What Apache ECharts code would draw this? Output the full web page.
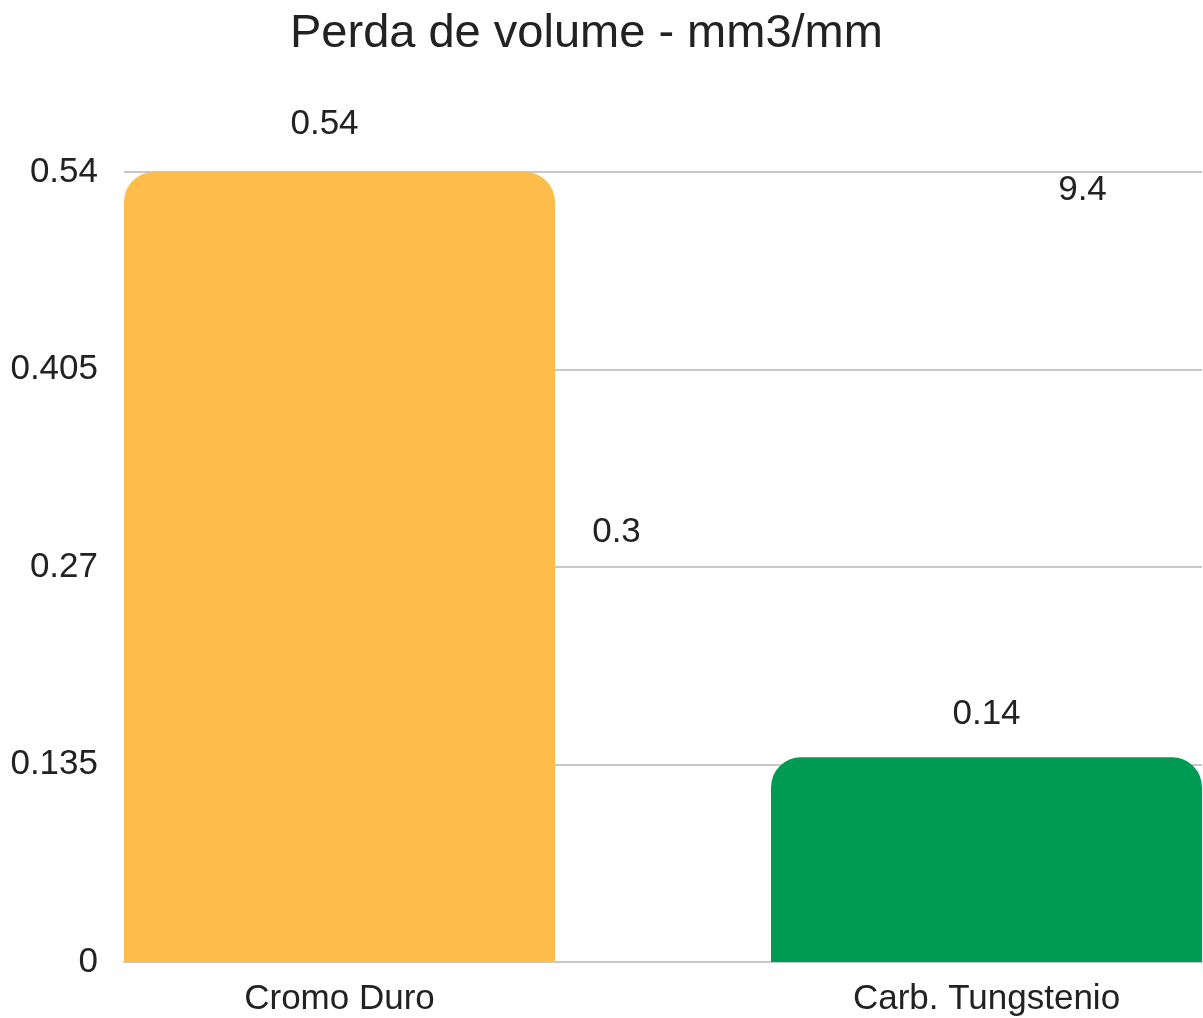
<!DOCTYPE html>
<html>
<head>
<meta charset="utf-8">
<script src="https://cdn.jsdelivr.net/npm/echarts@6/dist/echarts.min.js"></script>
<style>
html,body{margin:0;padding:0;background:#fff;}
#chart{width:1203px;height:1018px;}
</style>
</head>
<body>
<div id="chart"></div>
<script>
var titleText = 'Perda de volume - mm3/mm';
var categories = ['Cromo Duro', 'Carb. Tungstenio'];
var values = [0.54, 0.14];
var barColors = ['#FEBC4A', '#009B53'];
var strayValues = [0.3, 9.4];
var yMin = 0, yMax = 0.54, yInterval = 0.135;

var FONT = '"Liberation Sans", Arial, sans-serif';
var TXT = '#222222';
var GRIDC = '#C8C8C8';
var FS = 35;

var mainLabelStyle = [
  {distance: 30, offset: [-15, 0]},
  {distance: 25, offset: [0, 0]}
];
var strayLabelStyle = [
  {offset: [223, -13]},
  {offset: [150, -4]}
];

var chart = echarts.init(document.getElementById('chart'), null, {renderer: 'canvas'});
var option = {
  animation: false,
  backgroundColor: '#ffffff',
  title: {
    text: titleText,
    left: 285,
    top: 6,
    textStyle: {fontFamily: FONT, fontSize: 47, fontWeight: 'normal', color: TXT}
  },
  grid: [
    {left: 339.5, right: 216.5, top: 172, bottom: 56, containLabel: false},
    {left: 124, right: 1, top: 172, bottom: 56, containLabel: false}
  ],
  xAxis: [
    {
      type: 'category', gridIndex: 0, data: categories, boundaryGap: false,
      axisLine: {show: false}, axisTick: {show: false}, splitLine: {show: false},
      axisLabel: {margin: 20, fontFamily: FONT, fontSize: FS, color: TXT}
    },
    {
      type: 'category', gridIndex: 1, data: categories,
      axisLine: {show: true, lineStyle: {color: GRIDC, width: 2}},
      axisTick: {show: false}, axisLabel: {show: false}, splitLine: {show: false}
    }
  ],
  yAxis: [
    {
      type: 'value', gridIndex: 0, min: yMin, max: yMax, interval: yInterval, show: false,
      splitLine: {show: false}
    },
    {
      type: 'value', gridIndex: 1, min: yMin, max: yMax, interval: yInterval,
      axisLine: {show: false}, axisTick: {show: false},
      axisLabel: {margin: 26, fontFamily: FONT, fontSize: FS, color: TXT},
      splitLine: {show: true, lineStyle: {color: GRIDC, width: 2}}
    }
  ],
  series: [
    {
      type: 'bar', xAxisIndex: 0, yAxisIndex: 0, barWidth: 431, z: 3, clip: false,
      data: values.map(function (v, i) {
        return {
          value: v,
          itemStyle: {color: barColors[i], borderRadius: [30, 30, 0, 0]},
          label: {
            show: true, position: 'top',
            distance: mainLabelStyle[i].distance, offset: mainLabelStyle[i].offset,
            fontFamily: FONT, fontSize: FS, color: TXT
          }
        };
      })
    },
    {
      type: 'bar', xAxisIndex: 1, yAxisIndex: 1, barWidth: 2, z: 4, clip: true,
      itemStyle: {color: 'rgba(0,0,0,0)'},
      data: strayValues.map(function (v, i) {
        return {
          value: v,
          label: {
            show: true, position: 'insideTop', distance: 5,
            offset: strayLabelStyle[i].offset,
            fontFamily: FONT, fontSize: FS, color: TXT,
            formatter: String(v)
          }
        };
      })
    }
  ]
};
chart.setOption(option);
</script>
</body>
</html>
